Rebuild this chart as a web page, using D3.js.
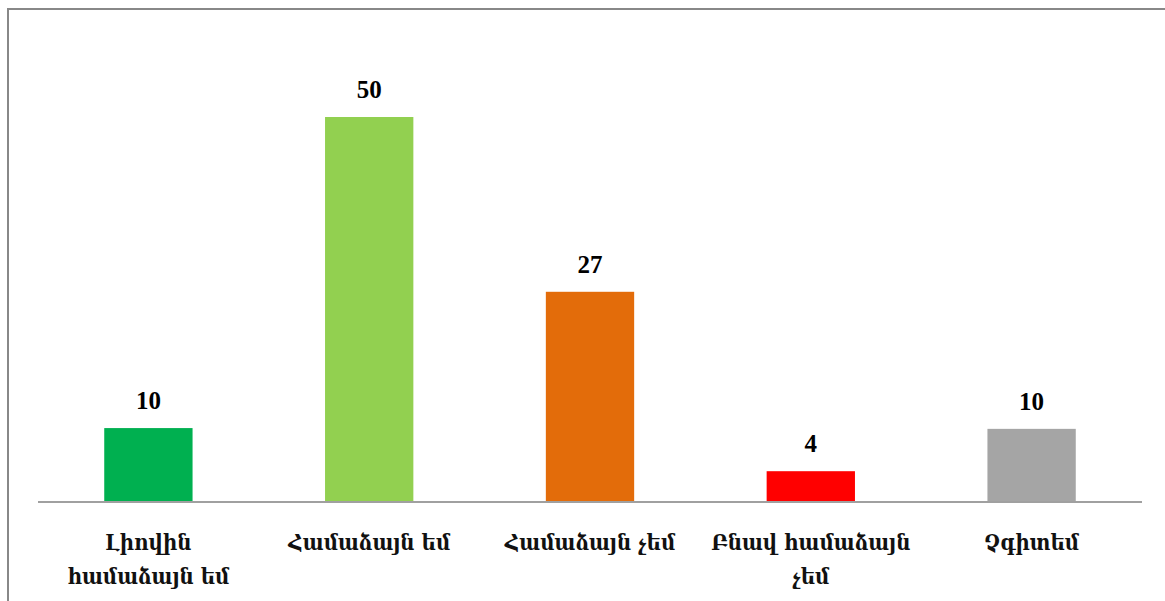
<!doctype html>
<html>
  <head>
    <meta charset="utf-8">
    <script src="https://cdn.jsdelivr.net/npm/d3@7/dist/d3.min.js"></script>
    <style>
      body { margin: 0; background: #fff; }
      .value { font-family: "Liberation Serif", "DejaVu Serif", serif; font-weight: bold; font-size: 25px; fill: #000; }
      .cat { font-family: "DejaVu Serif Condensed", "DejaVu Serif", serif; font-stretch: condensed; font-weight: bold; font-size: 22px; fill: #111; }
    </style>
  </head>
  <body>
    <svg id="chart" width="1165" height="601"></svg>
    <script>
      var categories = ["Լիովին համաձայն եմ", "Համաձայն եմ", "Համաձայն չեմ", "Բնավ համաձայն չեմ", "Չգիտեմ"];
      var values = [9.6, 50, 27.3, 4, 9.5];
      var barColors = ["#00b050", "#92d050", "#e36c0a", "#ff0000", "#a5a5a5"];

      var svg = d3.select("#chart");
      var baseY = 502;

      var x = d3.scaleBand()
        .domain(categories)
        .range([38, 1142])
        .paddingInner(0.6)
        .paddingOuter(0.3);

      var y = d3.scaleLinear()
        .domain([0, 50])
        .range([baseY, 117]);

      // frame (only top and left edges visible)
      svg.append("line")
        .attr("x1", 8).attr("x2", 1165).attr("y1", 9).attr("y2", 9)
        .style("stroke", "#888").style("stroke-width", 2);
      svg.append("line")
        .attr("x1", 8).attr("x2", 8).attr("y1", 8).attr("y2", 601)
        .style("stroke", "#888").style("stroke-width", 2);

      var data = categories.map((c, i) => ({ cat: c, v: values[i], color: barColors[i] }));

      svg.selectAll("rect.bar")
        .data(data)
        .enter()
        .append("rect")
          .attr("class", "bar")
          .attr("x", d => x(d.cat))
          .attr("width", x.bandwidth())
          .attr("y", d => y(d.v))
          .attr("height", d => baseY - y(d.v))
          .style("fill", d => d.color);

      // axis line
      var xAxis = svg.append("g")
        .attr("transform", `translate(0,${baseY})`)
        .call(d3.axisBottom(x).tickSize(0).tickFormat(""));
      xAxis.select(".domain").attr("stroke", "#a0a0a0").attr("stroke-width", 2)
        .attr("d", "M38,0H1142");

      svg.selectAll("text.value")
        .data(data)
        .enter()
        .append("text")
          .attr("class", "value")
          .attr("text-anchor", "middle")
          .attr("x", d => x(d.cat) + x.bandwidth() / 2)
          .attr("y", d => y(d.v) - 19)
          .text(d => Math.round(d.v));

      // category labels, wrapped to the band step
      var maxW = x.step() * 0.92;
      data.forEach(d => {
        var cx = x(d.cat) + x.bandwidth() / 2;
        var t = svg.append("text")
          .attr("class", "cat")
          .attr("text-anchor", "middle")
          .attr("x", cx)
          .attr("y", 550);
        var words = d.cat.split(" ");
        var line = [];
        var tspan = t.append("tspan").attr("x", cx).attr("dy", 0);
        words.forEach(w => {
          line.push(w);
          tspan.text(line.join(" "));
          if (tspan.node().getComputedTextLength() > maxW && line.length > 1) {
            line.pop();
            tspan.text(line.join(" "));
            line = [w];
            tspan = t.append("tspan").attr("x", cx).attr("dy", 34).text(w);
          }
        });
      });
    </script>
  </body>
</html>
